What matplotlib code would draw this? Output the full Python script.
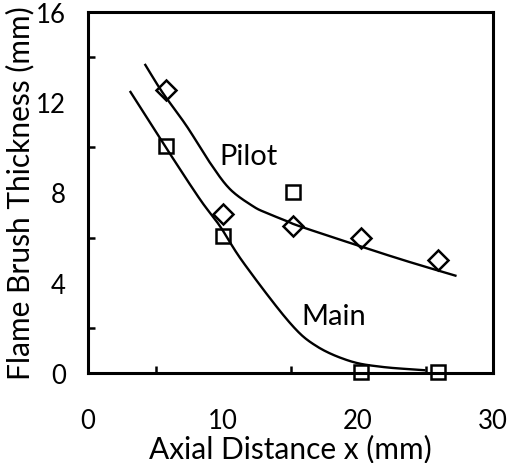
import numpy as np
import matplotlib
matplotlib.use("Agg")
import matplotlib.pyplot as plt
from matplotlib.ticker import MultipleLocator

plt.rcParams['font.family'] = ['Lato', 'DejaVu Sans']

# measured points
x_meas = [5.8, 10.0, 15.2, 20.2, 25.9]
pilot_meas = [12.55, 7.05, 6.5, 6.0, 5.0]
main_meas = [10.05, 6.07, 8.02, 0.05, 0.05]

# trend curves
pilot_fit_x = [4.2, 5.5, 7.3, 9.0, 10.5, 12.2, 13.2, 14.7, 15.7, 20.1, 23.6, 27.3]
pilot_fit_y = [13.7, 12.45, 10.95, 9.35, 8.16, 7.4, 7.1, 6.74, 6.5, 5.63, 4.96, 4.3]
main_fit_x = [3.1, 5.84, 8.28, 9.76, 11.5, 14.9, 16.9, 19.4, 21.8, 25.0]
main_fit_y = [12.5, 9.93, 7.71, 6.52, 4.9, 2.26, 1.2, 0.53, 0.27, 0.12]


def smooth(xs, ys, n=20):
    """Catmull-Rom spline through the given points."""
    p = np.column_stack([xs, ys]).astype(float)
    p = np.vstack([2 * p[0] - p[1], p, 2 * p[-1] - p[-2]])
    out = []
    t = np.linspace(0, 1, n, endpoint=False)[:, None]
    for i in range(1, len(p) - 2):
        p0, p1, p2, p3 = p[i - 1], p[i], p[i + 1], p[i + 2]
        seg = 0.5 * ((2 * p1) + (-p0 + p2) * t + (2 * p0 - 5 * p1 + 4 * p2 - p3) * t ** 2
                     + (-p0 + 3 * p1 - 3 * p2 + p3) * t ** 3)
        out.append(seg)
    out.append(p[-2][None, :])
    out = np.vstack(out)
    return out[:, 0], out[:, 1]


fig = plt.figure(figsize=(5.09, 4.64), dpi=100)
ax = fig.add_axes([88 / 509, 1 - 374 / 464, (493 - 88) / 509, (374 - 13) / 464])

sx, sy = smooth(pilot_fit_x, pilot_fit_y)
ax.plot(sx, sy, color='black', lw=1.7, solid_capstyle='butt')
sx, sy = smooth(main_fit_x, main_fit_y)
ax.plot(sx, sy, color='black', lw=1.7, solid_capstyle='butt')

ax.plot(x_meas, pilot_meas, linestyle='none', marker='D', markersize=10,
        markerfacecolor='none', markeredgecolor='black', markeredgewidth=1.8, clip_on=False)
ax.plot(x_meas, main_meas, linestyle='none', marker='s', markersize=9.5,
        markerfacecolor='none', markeredgecolor='black', markeredgewidth=1.8, clip_on=False)

ax.text(9.75, 9.26, 'Pilot', fontsize=21, ha='left', va='baseline')
ax.text(15.8, 2.17, 'Main', fontsize=21, ha='left', va='baseline')

ax.set_xlim(0, 30)
ax.set_ylim(0, 16)
ax.xaxis.set_major_locator(MultipleLocator(10))
ax.xaxis.set_minor_locator(MultipleLocator(5))
ax.yaxis.set_major_locator(MultipleLocator(4))
ax.yaxis.set_minor_locator(MultipleLocator(2))

for s in ax.spines.values():
    s.set_linewidth(2.2)

ax.tick_params(axis='both', which='both', direction='in', width=1.8, length=5,
               labelsize=18.5)
ax.tick_params(axis='x', which='major', pad=25)
ax.tick_params(axis='y', which='major', pad=16)
ax.tick_params(axis='x', which='major', length=0)
ax.tick_params(axis='y', which='major', length=0)

ax.set_xlabel('Axial Distance x (mm)', fontsize=21.5, labelpad=1)
ax.set_ylabel('Flame Brush Thickness (mm)', fontsize=21.5, labelpad=1)

fig.savefig('out.png', dpi=100)
